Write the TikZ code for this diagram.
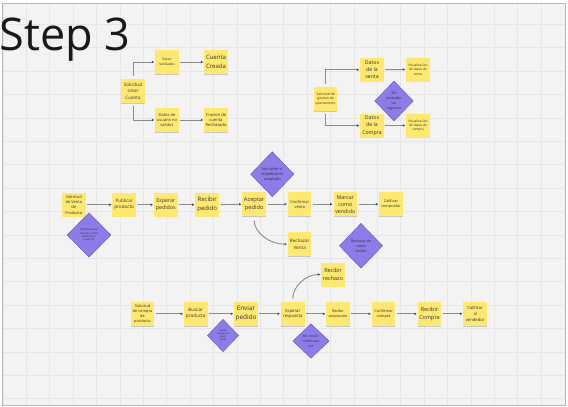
\documentclass[tikz,border=0pt]{standalone}
\usepackage{fontspec}
\setmainfont{Open Sans}
\usetikzlibrary{shapes.geometric,arrows.meta,shadows}
\definecolor{stk}{HTML}{FFE870}
\definecolor{dia}{HTML}{8B7CEA}
\definecolor{diab}{HTML}{6757C4}
\definecolor{connc}{HTML}{8C8C8C}
\definecolor{bgc}{HTML}{F3F3F3}
\definecolor{gridc}{HTML}{E6E6E6}
\definecolor{framec}{HTML}{B8B8B8}
\definecolor{txt}{HTML}{333333}
\tikzset{
  fs/.style 2 args={font=\fontsize{#1}{#2}\selectfont},
  sticky/.style={fill=stk, draw=none, minimum width=23.5pt, minimum height=24pt,
    inner sep=0pt, align=center, text=txt,
    drop shadow={shadow xshift=0pt, shadow yshift=-0.7pt, opacity=0.18, fill=black}},
  dmd/.style={diamond, fill=dia, draw=diab, line width=0.4pt, inner sep=0pt,
    align=center, text=txt},
  conn/.style={draw=connc, line width=0.9pt, shorten >=1pt, shorten <=1.5pt,
    -{Triangle[length=2.2pt,width=2.4pt,color=black!70]}},
}
\begin{document}
\begin{tikzpicture}[x=1pt,y=-1pt]
\useasboundingbox (0,0) rectangle (568,407);
\fill[white] (0,0) rectangle (568,407);
\fill[bgc] (2,3.3) rectangle (565,405);
\foreach \i in {0,...,23} {\draw[gridc, line width=0.4pt] ({2.7+23.4*\i},3.3) -- ({2.7+23.4*\i},405);}
\foreach \i in {0,...,16} {\draw[gridc, line width=0.4pt] (2,{24.1+23.4*\i}) -- (565,{24.1+23.4*\i});}
\draw[framec, line width=0.7pt] (2,3.3) rectangle (565,405);

\node[anchor=base west, inner sep=0pt, text=black!90, font=\fontsize{45}{50}\selectfont] (title) at (-0.5,50) {Step 3};

% ---- top-left group
\node[sticky, fs={4.6}{6.7}] (A1) at (133,91) {Solicitud\\crear\\Cuenta};
\node[sticky, fs={3.4}{5.4}] (A2) at (167,62) {Datos\\Validados};
\node[sticky, fs={6}{8.5}] (A3) at (216,62) {Cuenta\\Creada};
\node[sticky, fs={4}{5.4}] (A4) at (167,120) {Datos de\\usuario no\\validos};
\node[sticky, fs={4.1}{5.3}] (A5) at (216,120) {Cracion de\\cuenta\\Rechazada};
\draw[conn, shorten <=3pt] (A1.north) |- (A2.west);
\draw[conn, shorten <=3pt] (A1.south) |- (A4.west);
\draw[conn] (A2.east) -- (A3.west);
\draw[conn] (A4.east) -- (A5.west);

% ---- top-right group
\node[sticky, fs={3.4}{4.7}] (B1) at (325.7,99) {Solicitud de\\gestion de\\operaciones.};
\node[sticky, fs={5.2}{7.3}] (B2) at (372,69.7) {Datos\\de la\\venta};
\node[sticky, fs={3.25}{4.3}] (B3) at (418,69.5) {Visualizacion\\de datos de\\venta};
\node[sticky, fs={5.2}{7.3}] (B4) at (372,125.5) {Datos\\de la\\Compra};
\node[sticky, fs={3.25}{4.3}] (B5) at (418,125.5) {Visualizacion\\de datos de\\compra};
\draw[conn, shorten <=3pt] (B1.north) |- (B2.west);
\draw[conn, shorten <=3pt] (B1.south) |- (B4.west);
\draw[conn] (B2.east) -- (B3.west);
\draw[conn] (B4.east) -- (B5.west);
\node[dmd, minimum width=38.6pt, minimum height=40pt, fs={3.6}{5}] (BD) at (394,101) {No\\entender\\los\\registros};

% ---- sale row
\node[sticky, fs={4}{5.3}] (C1) at (73.8,204.7) {Solicitud\\de Venta\\de\\Producto};
\node[sticky, fs={4.6}{5.8}] (C2) at (124.2,204.7) {Publicar\\producto};
\node[sticky, fs={5.3}{7.6}] (C3) at (165.8,204.7) {Esperar\\pedidos};
\node[sticky, fs={6}{8.6}] (C4) at (207.2,204.7) {Recibir\\pedido};
\node[sticky, fs={5.7}{7.4}] (C5) at (254.2,204.2) {Aceptar\\pedido};
\node[sticky, fs={4}{5.2}] (C6) at (299.7,204.2) {Confirmar\\venta};
\node[sticky, fs={5.3}{7}] (C7) at (345.3,204.2) {Marcar\\como\\vendido};
\node[sticky, fs={3.8}{5}] (C8) at (391,204.2) {Calificar\\comprador};
\node[sticky, fs={4.6}{6.6}] (C9) at (299.7,244.2) {Rechazar\\Venta};
\draw[conn] (C1.east) -- (C2.west);
\draw[conn] (C2.east) -- (C3.west);
\draw[conn] (C3.east) -- (C4.west);
\draw[conn] (C4.east) -- (C5.west);
\draw[conn] (C5.east) -- (C6.west);
\draw[conn] (C6.east) -- (C7.west);
\draw[conn] (C7.east) -- (C8.west);
\draw[conn, shorten <=4pt] (C5.south) to[out=-90, in=180] (C9.west);
\node[dmd, minimum width=43.6pt, minimum height=44.6pt, fs={2.6}{3.3}] (CD1) at (89,235) {Dificultad para\\entender cómo\\publicar un\\producto};
\node[dmd, minimum width=43.4pt, minimum height=45pt, fs={3.9}{5.2}] (CD2) at (272.3,174.2) {No saber si\\el pedido es\\aceptado};
\node[dmd, minimum width=43.2pt, minimum height=45pt, fs={3.7}{5}] (CD3) at (361,245.8) {Rechazo sin\\razon\\visible};

% ---- purchase row
\node[sticky, fs={3.9}{5.2}] (D1) at (142.5,313.8) {Solicitud\\de compra\\de\\producto};
\node[sticky, fs={4.6}{6}] (D2) at (195.8,313.8) {Buscar\\producto};
\node[sticky, fs={6.4}{9.2}] (D3) at (246,313.8) {Enviar\\pedido};
\node[sticky, fs={4.2}{5.4}] (D4) at (292.8,313.8) {Esperar\\respuesta};
\node[sticky, fs={3.7}{5.3}] (D5) at (338,313.8) {Recibir\\aceptación};
\node[sticky, fs={3.9}{5.3}] (D6) at (383.7,313.8) {Confirmar\\compra};
\node[sticky, fs={5.5}{7.6}] (D7) at (429.5,313.8) {Recibir\\Compra};
\node[sticky, fs={4.2}{5.7}] (D8) at (475.2,313.8) {Calificar\\al\\vendedor};
\node[sticky, fs={5.5}{7.6}] (D9) at (333,274.5) {Recibir\\rechazo};
\draw[conn] (D1.east) -- (D2.west);
\draw[conn] (D2.east) -- (D3.west);
\draw[conn] (D3.east) -- (D4.west);
\draw[conn] (D4.east) -- (D5.west);
\draw[conn] (D5.east) -- (D6.west);
\draw[conn] (D6.east) -- (D7.west);
\draw[conn] (D7.east) -- (D8.west);
\draw[conn, shorten <=3pt] (D4.north) to[out=90, in=180] (D9.west);
\node[dmd, minimum width=31.4pt, minimum height=32.4pt, fs={2.4}{3}] (DD1) at (223,335.5) {Pedido\\enviado en\\datos\\vacíos};
\node[dmd, minimum width=36.4pt, minimum height=34.5pt, fs={3.5}{5}] (DD2) at (311,341) {No recibir\\notificacio\\nes};
\end{tikzpicture}
\end{document}
